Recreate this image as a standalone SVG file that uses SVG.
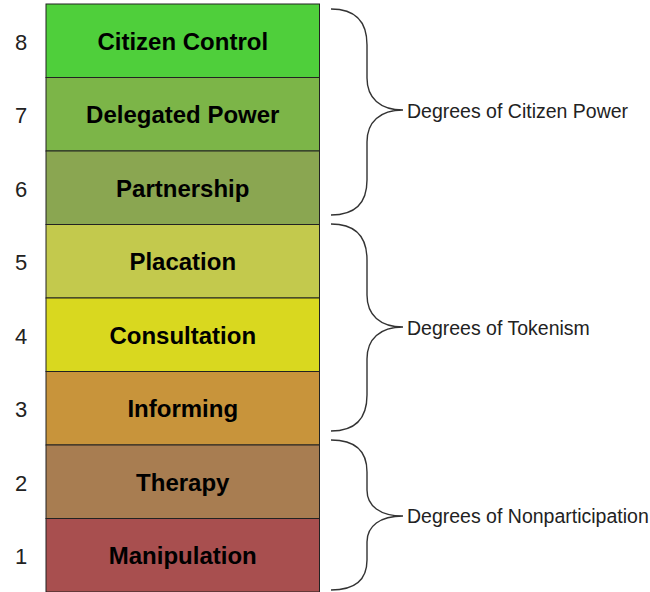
<svg xmlns="http://www.w3.org/2000/svg" width="650" height="592" viewBox="0 0 650 592">
<style>
.row{stroke:#222;stroke-width:1}
.lbl{font-family:"Liberation Sans",Arial,sans-serif;font-weight:bold;font-size:24px;fill:#000;text-anchor:middle}
.num{font-family:"Liberation Sans",Arial,sans-serif;font-size:22px;fill:#222;text-anchor:middle}
.grp{font-family:"Liberation Sans",Arial,sans-serif;font-size:19.5px;fill:#222}
.brace{fill:none;stroke:#333;stroke-width:1.4}
</style>
<rect width="650" height="592" fill="#fff"/>
<g id="n8"><rect class="row" x="46" y="4" width="273.5" height="73.5" fill="#4fcf3b"/><text class="lbl" x="182.75" y="49.5">Citizen Control</text><text class="num" x="21" y="49.5">8</text></g>
<g id="n7"><rect class="row" x="46" y="77.5" width="273.5" height="73.5" fill="#7cb548"/><text class="lbl" x="182.75" y="123">Delegated Power</text><text class="num" x="21" y="123">7</text></g>
<g id="n6"><rect class="row" x="46" y="151" width="273.5" height="73.5" fill="#8aa651"/><text class="lbl" x="182.75" y="196.5">Partnership</text><text class="num" x="21" y="196.5">6</text></g>
<g id="n5"><rect class="row" x="46" y="224.5" width="273.5" height="73.5" fill="#c3c94d"/><text class="lbl" x="182.75" y="270">Placation</text><text class="num" x="21" y="270">5</text></g>
<g id="n4"><rect class="row" x="46" y="298" width="273.5" height="73.5" fill="#d9d81f"/><text class="lbl" x="182.75" y="343.5">Consultation</text><text class="num" x="21" y="343.5">4</text></g>
<g id="n3"><rect class="row" x="46" y="371.5" width="273.5" height="73.5" fill="#c8943b"/><text class="lbl" x="182.75" y="417">Informing</text><text class="num" x="21" y="417">3</text></g>
<g id="n2"><rect class="row" x="46" y="445" width="273.5" height="73.5" fill="#a87d51"/><text class="lbl" x="182.75" y="490.5">Therapy</text><text class="num" x="21" y="490.5">2</text></g>
<g id="n1"><rect class="row" x="46" y="518.5" width="273.5" height="73.5" fill="#a84f4f"/><text class="lbl" x="182.75" y="564">Manipulation</text><text class="num" x="21" y="564">1</text></g>
<g id="connectors">
<path class="brace" d="M331,9 C356,9 367,22 367,45 L367,78 C367,98 380,110 403,110 C380,110 367,122 367,142 L367,180 C367,202 356,215 331,215"/>
<path class="brace" d="M331,224 C356,224 367,237 367,260 L367,295 C367,315 380,327 403,327 C380,327 367,339 367,359 L367,395 C367,418 356,431 331,431"/>
<path class="brace" d="M331,440 C356,440 367,452 367,472 L367,490 C367,506 380,516 403,516 C380,516 367,526 367,542 L367,560 C367,579 356,590 331,590"/>
</g>
<g id="g1"><text class="grp" x="407" y="118">Degrees of Citizen Power</text></g>
<g id="g2"><text class="grp" x="407" y="335">Degrees of Tokenism</text></g>
<g id="g3"><text class="grp" x="407" y="523">Degrees of Nonparticipation</text></g>
</svg>
